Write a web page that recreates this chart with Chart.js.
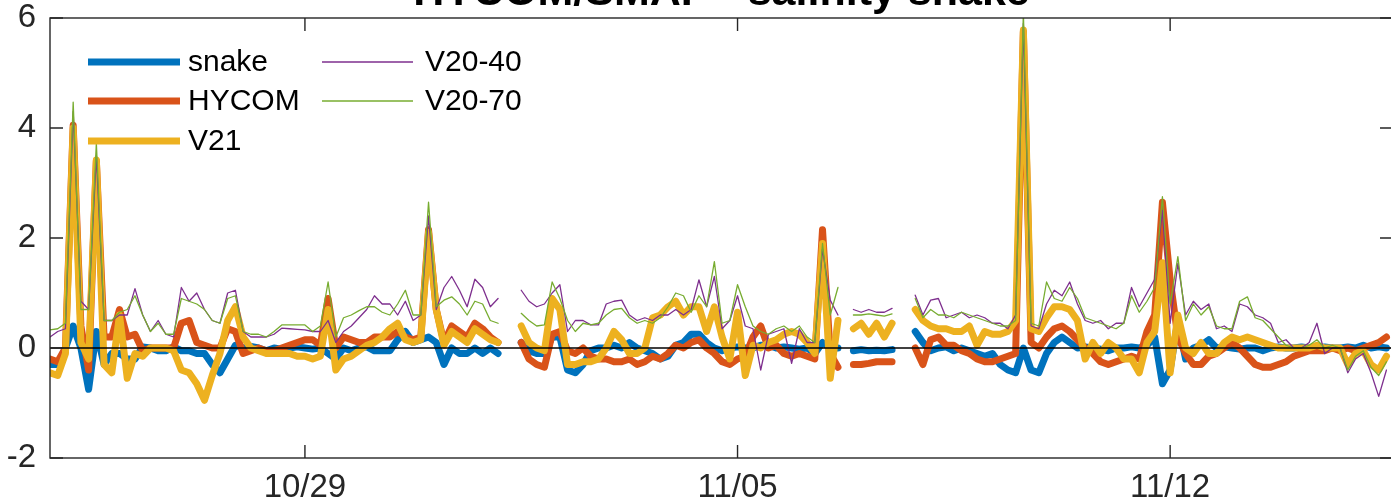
<!DOCTYPE html>
<html>
<head>
<meta charset="utf-8">
<title>HYCOM/SMAP - salinity snake</title>
<script src="https://cdn.jsdelivr.net/npm/chart.js@4.4.1/dist/chart.umd.min.js"></script>
<style>
  html, body { margin: 0; padding: 0; background: #fff; overflow: hidden; }
  #wrap { position: relative; width: 1400px; height: 501px; }
</style>
</head>
<body>
<div id="wrap"><canvas id="salinityChart" width="1400" height="501"></canvas></div>
<script>
// 3-hourly samples, time in days counted from Oct 1 (so Nov 5 = 36)
const t0 = 24.875;
const dt = 0.125;

const tickDays = [29, 36, 43];
const tickLabels = ["10/29", "11/05", "11/12"];

const chartTitle = "HYCOM/SMAP - salinity snake";
const seriesNames = ["snake", "HYCOM", "V21", "V20-40", "V20-70"];

// salinity differences, null = no data
const snake = [
  -0.3, -0.3, 0.0, 0.4, 0.0, -0.75, 0.3, -0.3, -0.1, -0.1,
  -0.2, -0.2, 0.02, 0.0, -0.05, -0.05, 0.02, -0.05, -0.05, -0.1,
  -0.1, -0.3, -0.45, -0.2, 0.05, 0.0, 0.03, 0.0, -0.05, 0.0,
  -0.02, 0.0, 0.02, 0.0, -0.02, 0.0, -0.1, -0.2, 0.0, -0.05,
  0.0, 0.02, -0.05, -0.05, -0.05, 0.15, 0.3, 0.1, 0.15, 0.2,
  0.1, -0.3, 0.0, -0.1, -0.1, 0.0, -0.1, 0.0, -0.1, null,
  null, 0.1, -0.05, -0.1, -0.1, 0.2, 0.2, -0.4, -0.45, -0.3,
  -0.05, 0.0, 0.0, 0.05, 0.0, 0.1, 0.0, -0.05, -0.1, -0.2,
  -0.15, 0.05, 0.1, 0.25, 0.25, 0.1, 0.0, -0.05, 0.0, 0.02,
  0.0, 0.0, 0.05, 0.05, 0.0, 0.02, 0.0, -0.02, 0.0, -0.1,
  0.1, 0.0, 0.0, null, -0.05, -0.03, -0.05, -0.04, -0.05, -0.03,
  null, null, 0.3, 0.1, -0.05, 0.0, 0.02, -0.05, 0.0, -0.05,
  -0.1, -0.15, -0.1, -0.3, -0.4, -0.45, 0.0, -0.4, -0.45, -0.1,
  0.1, 0.2, 0.1, 0.0, 0.02, 0.0, -0.02, -0.05, 0.0, 0.0,
  0.02, 0.0, 0.05, 0.2, -0.65, -0.4, 0.5, -0.2, 0.0, 0.05,
  0.15, 0.0, 0.02, 0.0, -0.02, 0.0, 0.0, -0.05, 0.0, 0.02,
  0.0, 0.0, 0.02, 0.0, 0.0, 0.02, 0.0, 0.0, 0.02, 0.0,
  0.05, 0.0, 0.02, 0.0
];

const hycom = [
  -0.2, -0.25, 0.0, 4.05, 0.4, -0.4, 3.4, 0.2, 0.2, 0.7,
  0.2, 0.25, -0.05, 0.0, 0.0, 0.0, 0.0, 0.45, 0.5, 0.1,
  0.05, 0.0, 0.0, 0.35, 0.3, -0.1, -0.05, 0.0, -0.05, -0.05,
  0.0, 0.05, 0.1, 0.15, 0.15, 0.05, 0.9, 0.0, 0.2, 0.15,
  0.1, 0.1, 0.2, 0.2, 0.2, 0.3, 0.2, 0.15, 0.2, 2.15,
  0.7, 0.1, 0.4, 0.3, 0.2, 0.45, 0.35, 0.2, 0.1, null,
  null, 0.1, -0.2, -0.3, -0.35, 0.25, 0.3, -0.05, -0.1, 0.0,
  -0.15, -0.2, -0.2, -0.25, -0.25, -0.2, -0.3, -0.25, -0.15, -0.2,
  -0.1, 0.05, 0.0, 0.1, 0.15, 0.0, -0.1, -0.25, -0.3, -0.2,
  -0.15, 0.2, 0.4, 0.0, 0.05, -0.1, -0.15, -0.1, -0.15, -0.2,
  2.15, -0.1, -0.35, null, -0.3, -0.3, -0.28, -0.25, -0.25, -0.25,
  null, null, 0.0, -0.3, 0.15, 0.2, 0.05, 0.05, -0.05, -0.1,
  -0.2, -0.25, -0.25, -0.2, -0.15, -0.1, 5.75, 0.1, 0.0, 0.2,
  0.35, 0.4, 0.3, 0.15, 0.0, -0.1, -0.25, -0.3, -0.25, -0.2,
  -0.15, -0.2, 0.3, 0.6, 2.65, 1.24, 0.2, -0.1, -0.3, -0.3,
  -0.15, -0.1, 0.0, 0.1, 0.0, -0.15, -0.3, -0.35, -0.35, -0.3,
  -0.25, -0.15, -0.1, -0.05, -0.05, -0.05, 0.0, -0.05, 0.0, -0.05,
  0.0, 0.05, 0.1, 0.2
];

const v21 = [
  -0.45, -0.5, -0.1, 4.0, 0.1, -0.2, 3.42, -0.3, -0.45, 0.6,
  -0.55, -0.1, -0.15, 0.0, 0.0, 0.0, -0.05, -0.4, -0.45, -0.65,
  -0.95, -0.5, -0.1, 0.5, 0.75, 0.2, 0.0, -0.05, -0.1, -0.1,
  -0.1, -0.1, -0.15, -0.15, -0.2, -0.15, 0.7, -0.4, -0.2, -0.15,
  -0.05, 0.05, 0.1, 0.2, 0.35, 0.45, 0.15, 0.1, 0.15, 2.1,
  0.7, 0.05, 0.3, 0.2, 0.1, 0.35, 0.25, 0.15, 0.1, null,
  null, 0.4, 0.1, 0.0, -0.05, 0.9, 0.7, -0.3, -0.3, -0.25,
  -0.25, -0.2, 0.0, 0.3, 0.15, -0.1, -0.1, 0.0, 0.55, 0.6,
  0.75, 0.85, 0.6, 0.75, 0.75, 0.3, 0.75, 0.2, -0.2, 0.65,
  -0.5, 0.05, 0.0, 0.1, 0.15, 0.25, 0.3, 0.25, 0.1, -0.1,
  1.9, -0.55, 0.5, null, 0.35, 0.45, 0.25, 0.45, 0.2, 0.45,
  null, null, 0.7, 0.5, 0.4, 0.35, 0.35, 0.3, 0.3, 0.4,
  0.05, 0.3, 0.25, 0.25, 0.3, 0.5, 5.78, 0.35, 0.3, 0.55,
  0.75, 0.75, 0.7, 0.5, -0.2, 0.1, -0.1, 0.1, 0.0, -0.2,
  -0.2, -0.45, 0.1, 0.3, 1.55, -0.45, 0.6, 0.0, -0.1, 0.1,
  -0.1, -0.1, 0.1, 0.2, 0.15, 0.2, 0.15, 0.1, 0.05, 0.0,
  0.0, 0.0, 0.0, 0.0, 0.05, 0.0, 0.0, 0.0, -0.3, -0.1,
  -0.05, -0.3, -0.4, -0.15
];

const v2040 = [
  0.2, 0.3, 0.35, 4.3, 0.85, 0.7, 3.5, 0.5, 0.5, 0.6,
  0.6, 1.08, 0.6, 0.3, 0.5, 0.25, 0.2, 1.1, 0.85, 1.0,
  0.7, 0.5, 0.45, 1.0, 1.05, 0.3, 0.2, 0.2, 0.2, 0.25,
  0.36, 0.35, 0.34, 0.33, 0.3, 0.3, 0.5, 0.1, 0.3, 0.4,
  0.55, 0.7, 0.95, 0.8, 0.8, 0.6, 0.85, 0.5, 0.6, 2.4,
  0.7, 1.1, 1.3, 1.05, 0.75, 1.25, 1.1, 0.75, 0.9, null,
  null, 1.05, 0.85, 0.75, 0.8, 1.0, 1.15, 0.3, 0.5, 0.5,
  0.42, 0.42, 0.8, 0.85, 0.87, 0.6, 0.5, 0.55, 0.5, 0.6,
  0.6, 0.7, 0.6, 0.7, 1.24, 0.75, 1.3, 0.35, 0.5, 0.95,
  0.4, 0.35, -0.4, 0.25, 0.3, 0.35, -0.28, 0.35, 0.1, 0.1,
  1.8, 0.87, 0.6, null, 0.7, 0.65, 0.7, 0.65, 0.65, 0.72,
  null, null, 0.96, 0.6, 0.87, 0.9, 0.55, 0.6, 0.65, 0.55,
  0.6, 0.55, 0.45, 0.45, 0.35, 0.6, 5.9, 0.4, 0.35, 0.8,
  1.05, 0.95, 1.2, 0.8, 0.5, 0.45, 0.5, 0.35, 0.45, 0.45,
  1.1, 0.75, 1.0, 1.25, 2.5, 0.45, 1.54, 0.6, 0.85, 0.7,
  0.8, 0.35, 0.4, 0.3, 0.8, 0.75, 0.6, 0.55, 0.45, 0.1,
  0.15, 0.0, 0.0, 0.1, 0.45, -0.1, 0.0, 0.0, -0.45, -0.2,
  -0.1, -0.45, -0.88, -0.4
];

const v2070 = [
  0.33, 0.35, 0.45, 4.47, 0.7, 0.7, 3.72, 0.5, 0.5, 0.65,
  0.7, 0.95, 0.6, 0.3, 0.45, 0.25, 0.25, 0.9, 0.85, 0.8,
  0.7, 0.5, 0.45, 0.9, 0.95, 0.3, 0.25, 0.25, 0.2, 0.3,
  0.42, 0.42, 0.42, 0.42, 0.3, 0.4, 1.2, 0.2, 0.55, 0.6,
  0.68, 0.75, 0.75, 0.65, 0.6, 0.8, 1.05, 0.6, 0.6, 2.65,
  0.75, 0.87, 0.93, 0.8, 0.6, 0.85, 0.8, 0.5, 0.45, null,
  null, 0.63, 0.5, 0.4, 0.42, 1.2, 0.9, 0.5, 0.3, 0.45,
  0.42, 0.45, 0.6, 0.7, 0.72, 0.55, 0.45, 0.5, 0.45, 0.55,
  0.75, 1.0, 0.95, 0.65, 0.95, 0.75, 1.57, 0.45, 0.5, 1.15,
  0.75, 0.4, 0.3, 0.25, 0.35, 0.4, 0.3, 0.4, 0.2, 0.1,
  1.9, 0.6, 1.1, null, 0.6, 0.6, 0.62, 0.6, 0.58, 0.62,
  null, null, 0.9, 0.55, 0.7, 0.6, 0.6, 0.55, 0.65, 0.6,
  0.55, 0.5, 0.45, 0.4, 0.4, 0.5, 6.1, 0.45, 0.4, 1.2,
  0.9, 0.85, 1.1, 0.9, 0.55, 0.5, 0.45, 0.4, 0.35, 0.45,
  0.95, 0.65, 0.85, 1.1, 2.75, 0.8, 1.66, 0.5, 0.8, 0.6,
  0.75, 0.4, 0.35, 0.35, 0.85, 0.93, 0.55, 0.5, 0.35, 0.2,
  0.05, 0.0, 0.0, 0.05, 0.15, 0.0, 0.05, 0.0, -0.4, -0.15,
  -0.05, -0.35, -0.5, -0.25
];

const times = snake.map((_, i) => t0 + i * dt);

const FONT = '"Liberation Sans", Helvetica, Arial, sans-serif';
const AXIS_COLOR = "#262626";
const TICK_LEN = 13;

function toPoints(values) {
  return values.map((v, i) => ({ x: times[i], y: v }));
}

function makeSeries(label, values, color, width, order) {
  return {
    label: label,
    data: toPoints(values),
    borderColor: color,
    backgroundColor: color,
    borderWidth: width,
    borderJoinStyle: "round",
    borderCapStyle: "round",
    pointRadius: 0,
    tension: 0,
    spanGaps: false,
    order: order,
  };
}

// title sits mostly above the visible area, only its lower part shows
const titlePlugin = {
  id: "topTitle",
  afterDraw(chart) {
    const { ctx, chartArea } = chart;
    ctx.save();
    ctx.font = "bold 43px " + FONT;
    ctx.fillStyle = "#000";
    ctx.textAlign = "center";
    ctx.textBaseline = "alphabetic";
    ctx.fillText(chartTitle, (chartArea.left + chartArea.right) / 2, 5);
    ctx.restore();
  },
};

// black reference line at zero, over the data
const zeroLine = {
  id: "zeroLine",
  afterDatasetsDraw(chart) {
    const { ctx, chartArea, scales } = chart;
    const y0 = scales.y.getPixelForValue(0);
    ctx.save();
    ctx.strokeStyle = "#000";
    ctx.lineWidth = 1.4;
    ctx.beginPath();
    ctx.moveTo(chartArea.left, y0);
    ctx.lineTo(chartArea.right, y0);
    ctx.stroke();
    ctx.restore();
  },
};

// box axes with inward ticks on all four sides
const axesBox = {
  id: "axesBox",
  afterDraw(chart) {
    const { ctx, chartArea: a, scales } = chart;
    ctx.save();
    ctx.strokeStyle = AXIS_COLOR;
    ctx.lineWidth = 1.4;
    ctx.strokeRect(a.left, a.top, a.right - a.left, a.bottom - a.top);
    ctx.beginPath();
    scales.x.ticks.forEach((t) => {
      const px = scales.x.getPixelForValue(t.value);
      ctx.moveTo(px, a.bottom);
      ctx.lineTo(px, a.bottom - TICK_LEN);
      ctx.moveTo(px, a.top);
      ctx.lineTo(px, a.top + TICK_LEN);
    });
    scales.y.ticks.forEach((t) => {
      const py = scales.y.getPixelForValue(t.value);
      ctx.moveTo(a.left, py);
      ctx.lineTo(a.left + TICK_LEN, py);
      ctx.moveTo(a.right, py);
      ctx.lineTo(a.right - TICK_LEN, py);
    });
    ctx.stroke();
    ctx.restore();
  },
};

// two-column legend without a frame
const legendPlugin = {
  id: "columnLegend",
  afterDraw(chart) {
    const { ctx } = chart;
    const cols = [
      { x1: 88, x2: 180, tx: 188 },
      { x1: 322, x2: 413, tx: 425 },
    ];
    const rows = [62, 101, 141];
    const slots = [[0, 0], [0, 1], [0, 2], [1, 0], [1, 1]];
    ctx.save();
    ctx.font = "30px " + FONT;
    ctx.textBaseline = "middle";
    ctx.textAlign = "left";
    chart.data.datasets.forEach((ds, i) => {
      const c = cols[slots[i][0]];
      const y = rows[slots[i][1]];
      ctx.strokeStyle = ds.borderColor;
      ctx.lineWidth = ds.borderWidth;
      ctx.lineCap = "butt";
      ctx.beginPath();
      ctx.moveTo(c.x1, y);
      ctx.lineTo(c.x2, y);
      ctx.stroke();
      ctx.fillStyle = "#000";
      ctx.fillText(ds.label, c.tx, y + 1);
    });
    ctx.restore();
  },
};

const ctx = document.getElementById("salinityChart");

new Chart(ctx, {
  type: "line",
  data: {
    datasets: [
      makeSeries(seriesNames[0], snake, "#0072BD", 7, 5),
      makeSeries(seriesNames[1], hycom, "#D95319", 7, 4),
      makeSeries(seriesNames[2], v21, "#EDB120", 7, 3),
      makeSeries(seriesNames[3], v2040, "#7E2F8E", 1.3, 2),
      makeSeries(seriesNames[4], v2070, "#77AC30", 1.3, 1),
    ],
  },
  options: {
    responsive: false,
    animation: false,
    devicePixelRatio: 1,
    layout: {
      padding: { top: 18, right: 7, left: 0, bottom: 0 },
    },
    plugins: {
      legend: { display: false },
      tooltip: { enabled: false },
      title: { display: false },
    },
    scales: {
      x: {
        type: "linear",
        min: 24.875,
        max: 46.606,
        afterBuildTicks: function (scale) {
          scale.ticks = tickDays.map((d) => ({ value: d }));
        },
        afterFit: function (scale) {
          scale.height = 43;
          scale.paddingLeft = 0;
          scale.paddingRight = 0;
        },
        ticks: {
          autoSkip: false,
          maxRotation: 0,
          padding: 10,
          color: AXIS_COLOR,
          font: { family: FONT, size: 33 },
          callback: function (value) {
            const k = tickDays.indexOf(value);
            return k >= 0 ? tickLabels[k] : "";
          },
        },
        grid: { display: false, drawTicks: false },
        border: { display: false },
      },
      y: {
        min: -2,
        max: 6,
        afterFit: function (scale) {
          // fixed gutter, and no extra room reserved for the end labels
          scale.width = 50;
          scale.paddingTop = 0;
          scale.paddingBottom = 0;
        },
        ticks: {
          stepSize: 2,
          padding: 14,
          color: AXIS_COLOR,
          font: { family: FONT, size: 33 },
        },
        grid: { display: false, drawTicks: false },
        border: { display: false },
      },
    },
  },
  plugins: [zeroLine, axesBox, legendPlugin, titlePlugin],
});
</script>
</body>
</html>
